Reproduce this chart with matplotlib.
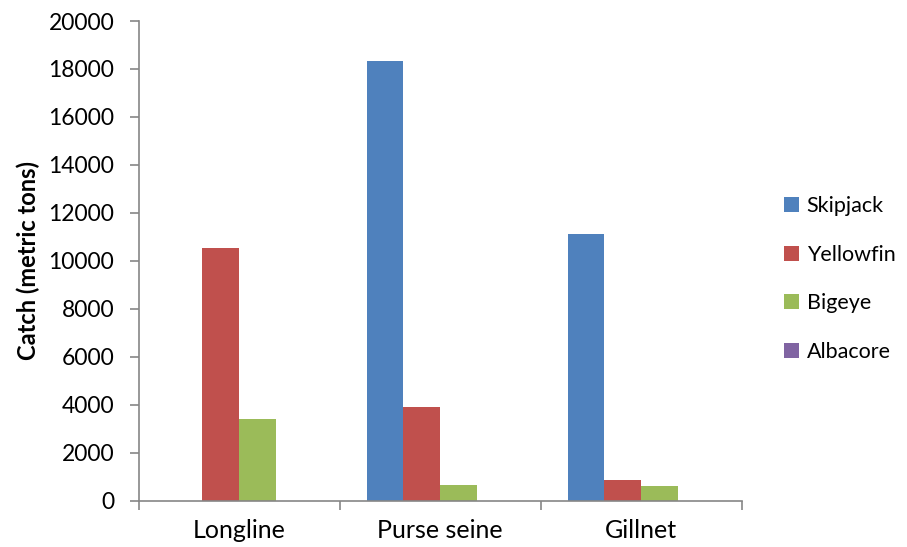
import matplotlib
matplotlib.use("Agg")
import matplotlib.pyplot as plt
import numpy as np

plt.rcParams['font.family'] = ['Lato', 'DejaVu Sans']

gears = ["Longline", "Purse seine", "Gillnet"]
species = ["Skipjack", "Yellowfin", "Bigeye", "Albacore"]
skipjack = [0, 18320, 11130]
yellowfin = [10550, 3890, 875]
bigeye = [3400, 660, 600]
albacore = [0, 0, 0]
yticks = [0, 2000, 4000, 6000, 8000, 10000, 12000, 14000, 16000, 18000, 20000]

series = [skipjack, yellowfin, bigeye, albacore]
colors = ["#4F81BD", "#C0504D", "#9BBB59", "#8064A2"]

W, H = 907, 547
fig = plt.figure(figsize=(W / 100, H / 100), dpi=100)
ax = fig.add_axes([138.5 / W, 1 - 500.5 / H, (741.5 - 138.5) / W, (500.5 - 21) / H])

x = np.arange(len(gears))
gap = 1.5
bw = 1 / (len(species) + gap)
for i, (name, vals, c) in enumerate(zip(species, series, colors)):
    offs = (i - (len(species) - 1) / 2) * bw
    ax.bar(x + offs, vals, width=bw, color=c, label=name, linewidth=0)

ax.set_xlim(-0.5, len(gears) - 0.5)
ax.set_ylim(0, 20000)
ax.set_yticks(yticks)
ax.set_yticklabels([str(v) for v in yticks], fontsize=16.5)
ax.set_xticks(x)
ax.set_xticklabels(gears, fontsize=18)
ax.set_xticks(np.arange(-0.5, len(gears), 1), minor=True)

spine_c = "#868686"
for s in ["top", "right"]:
    ax.spines[s].set_visible(False)
for s in ["left", "bottom"]:
    ax.spines[s].set_color(spine_c)
    ax.spines[s].set_linewidth(1.2)
    ax.spines[s].set_zorder(5)

ax.tick_params(axis="y", direction="out", length=6.5, width=1.2, color=spine_c, pad=11)
ax.tick_params(axis="x", which="major", length=0, pad=13)
ax.tick_params(axis="x", which="minor", direction="out", length=6.5, width=1.2, color=spine_c)

ax.set_ylabel("Catch (metric tons)", fontsize=17, fontweight="bold", labelpad=6)

ax.legend(loc="center left", bbox_to_anchor=(784 / W, 1 - 279 / H),
          bbox_transform=fig.transFigure, frameon=False, fontsize=15.5,
          handlelength=0.7, handleheight=0.7, handletextpad=0.35,
          labelspacing=1.33, borderpad=0, borderaxespad=0)

fig.savefig("out.png", dpi=100)
